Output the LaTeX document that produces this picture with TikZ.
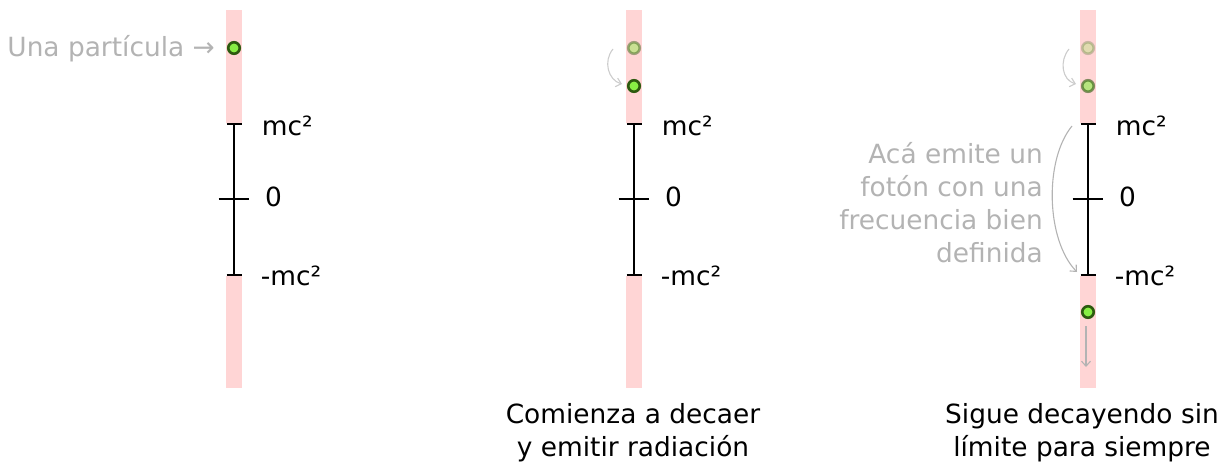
\documentclass[tikz,border=0pt]{standalone}
\usepackage{fontspec}
\setmainfont{DejaVu Sans}
\usetikzlibrary{arrows.meta}
\definecolor{barpink}{HTML}{FFD5D5}
\definecolor{ptfill}{HTML}{88EE44}
\definecolor{ptdraw}{HTML}{2D5A0F}
\definecolor{notegray}{HTML}{B3B3B3}
\definecolor{hintgray}{HTML}{CCCCCC}
\begin{document}
\begin{tikzpicture}[x=1pt,y=-1pt,
  font=\fontsize{26.4}{33}\selectfont,
  band/.style={fill=barpink},
  axisline/.style={line width=1.6, draw=black},
  lvl/.style={anchor=base west, inner sep=0},
  particle/.style={circle, minimum size=11.5, inner sep=0, line width=2.6, draw=ptdraw, fill=ptfill},
  ghost/.style={particle, opacity=#1},
  note/.style={text=notegray, inner sep=0},
  hint/.style={draw=hintgray, line width=1.1, -{Straight Barb[length=5pt, width=9pt]}},
  notearrow/.style={draw=notegray, line width=1.1, -{Straight Barb[length=5pt, width=9pt]}},
  caption/.style={align=center, inner sep=0, anchor=base},
]
\useasboundingbox (0,0) rectangle (1224,463);

% three energy axes with the bands above mc^2 and below -mc^2
\foreach \cx/\n in {234/a, 634/b, 1088/c}{
  \fill[band] (\cx-8,10) rectangle (\cx+8,123);
  \fill[band] (\cx-8,276) rectangle (\cx+8,388);
  \coordinate (hi\n) at (\cx,124);
  \coordinate (zero\n) at (\cx,199);
  \coordinate (lo\n) at (\cx,275);
  \draw[axisline] (hi\n) -- (lo\n);
  \draw[axisline] ([xshift=-7.5]hi\n) -- ([xshift=7.5]hi\n);
  \draw[axisline] ([xshift=-15.5]zero\n) -- ([xshift=15]zero\n);
  \draw[axisline] ([xshift=-7.5]lo\n) -- ([xshift=7.5]lo\n);
  \node[lvl] (mc\n) at (\cx+27.7,135) {mc²};
  \node[lvl] (z\n) at (\cx+31,206.7) {0};
  \node[lvl] (mmc\n) at (\cx+26.7,285) {-mc²};
}

% first axis: the particle at rest
\node[particle] (pa) at (234,48) {};
\node[note, anchor=base east] (lbla) at (215,56.7) {Una partícula →};

% second axis: starts to decay
\node[ghost=0.45] (pb1) at (634,48) {};
\node[particle] (pb2) at (634,86) {};
\draw[hint] ([xshift=-21,yshift=-1]pb1.center) .. controls +(-10,12) and +(-14,-4) .. ([xshift=-12,yshift=2]pb2.center);
\node[caption] (capb) at (633,456.7) {Comienza a decaer\\y emitir radiación};

% third axis: keeps decaying without limit
\node[ghost=0.25] (pc1) at (1088,48) {};
\node[ghost=0.6] (pc2) at (1088,86) {};
\node[particle] (pc3) at (1088,312) {};
\draw[hint] ([xshift=-19,yshift=-1]pc1.center) .. controls +(-10,12) and +(-14,-4) .. ([xshift=-12,yshift=2]pc2.center);
\draw[notearrow] ([xshift=-16,yshift=-2]hic) .. controls +(-28,34) and +(-31,-32) .. ([xshift=-11,yshift=3]loc);
\node[note, align=right, anchor=base east] (emit) at (1043,262.7) {Acá emite un\\fotón con una\\frecuencia bien\\definida};
\draw[notearrow] ([xshift=-2,yshift=-14]pc3.center) -- ([xshift=-2,yshift=-55]pc3.center);
\node[caption] (capc) at (1082,456.7) {Sigue decayendo sin\\límite para siempre};
\end{tikzpicture}
\end{document}
